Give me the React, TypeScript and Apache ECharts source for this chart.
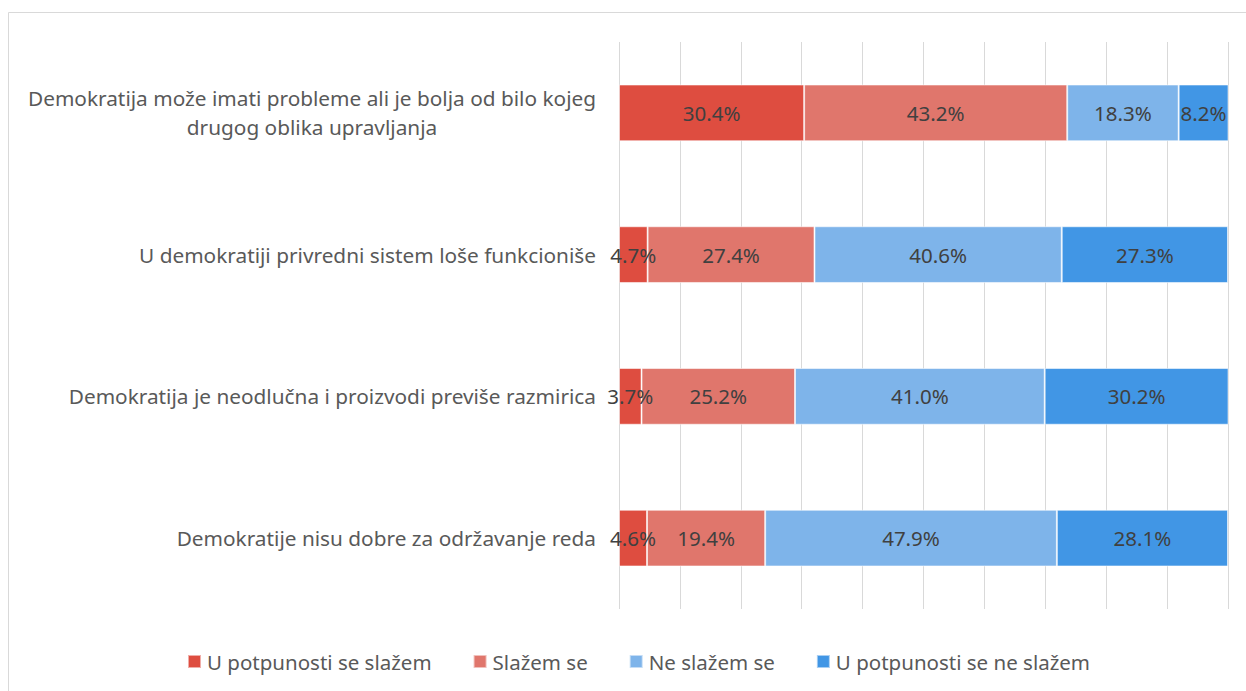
import React, { useEffect, useRef } from "react";
import * as echarts from "echarts";

const categories = [
  "Demokratija može imati probleme ali je bolja od bilo kojeg\ndrugog oblika upravljanja",
  "U demokratiji privredni sistem loše funkcioniše",
  "Demokratija je neodlučna i proizvodi previše razmirica",
  "Demokratije nisu dobre za održavanje reda",
];
const seriesNames = [
  "U potpunosti se slažem",
  "Slažem se",
  "Ne slažem se",
  "U potpunosti se ne slažem",
];
const fullyAgree = [30.4, 4.7, 3.7, 4.6];
const agree = [43.2, 27.4, 25.2, 19.4];
const disagree = [18.3, 40.6, 41.0, 47.9];
const fullyDisagree = [8.2, 27.3, 30.2, 28.1];
const colors = ["#DE4D40", "#E0766C", "#7EB4EA", "#4196E5"];

export default function App() {
  const ref = useRef<HTMLDivElement>(null);
  useEffect(() => {
    if (!ref.current) return;
    const chart = echarts.init(ref.current, null, { renderer: "svg" });
    const font = "'Noto Sans', 'Open Sans', sans-serif";
    const values = [fullyAgree, agree, disagree, fullyDisagree];
    chart.setOption({
      animation: false,
      textStyle: { fontFamily: font },
      graphic: [
        {
          type: "rect",
          shape: { x: 8.5, y: 12.5, width: 1300, height: 800 },
          style: { fill: "none", stroke: "#D9D9D9", lineWidth: 1 },
          silent: true,
        },
      ],
      grid: { left: 619, right: 18, top: 42, bottom: 82 },
      xAxis: {
        type: "value",
        min: 0,
        max: 100,
        interval: 10,
        axisLabel: { show: false },
        axisLine: { show: false },
        axisTick: { show: false },
        splitLine: { show: true, lineStyle: { color: "#D9D9D9", width: 1 } },
      },
      yAxis: {
        type: "category",
        inverse: true,
        data: categories,
        axisLine: { show: false },
        axisTick: { show: false },
        axisLabel: {
          margin: 23,
          color: "#595959",
          fontSize: 20.8,
          fontFamily: font,
          lineHeight: 29,
          formatter: (v: string) => {
            if (v.indexOf("\n") >= 0) {
              return v
                .split("\n")
                .map((l) => "{c|" + l + "}")
                .join("\n");
            }
            return v;
          },
          rich: {
            c: {
              width: 568,
              align: "center",
              fontSize: 20.8,
              lineHeight: 29,
              color: "#595959",
              fontFamily: font,
            },
          },
        },
      },
      legend: {
        left: 187,
        top: 651,
        padding: 0,
        icon: "rect",
        itemWidth: 13,
        itemHeight: 13,
        itemGap: 41,
        textStyle: { color: "#595959", fontSize: 20.5, fontFamily: font, padding: [0, 0, 0, 1] },
        data: seriesNames,
      },
      series: seriesNames.map((name, i) => ({
        name,
        type: "bar",
        stack: "total",
        barWidth: "40%",
        data: values[i],
        itemStyle: {
          color: colors[i],
          borderColor: "rgba(255,255,255,0.55)",
          borderWidth: 1,
        },
        label: {
          show: true,
          position: "inside",
          color: "#404040",
          fontSize: 20.5,
          fontFamily: font,
          formatter: (p: any) => p.value.toFixed(1) + "%",
        },
      })),
    });
    return () => chart.dispose();
  }, []);
  return (
    <div
      ref={ref}
      style={{ position: "absolute", left: 0, top: 0, width: 1246, height: 691, background: "#fff" }}
    />
  );
}
